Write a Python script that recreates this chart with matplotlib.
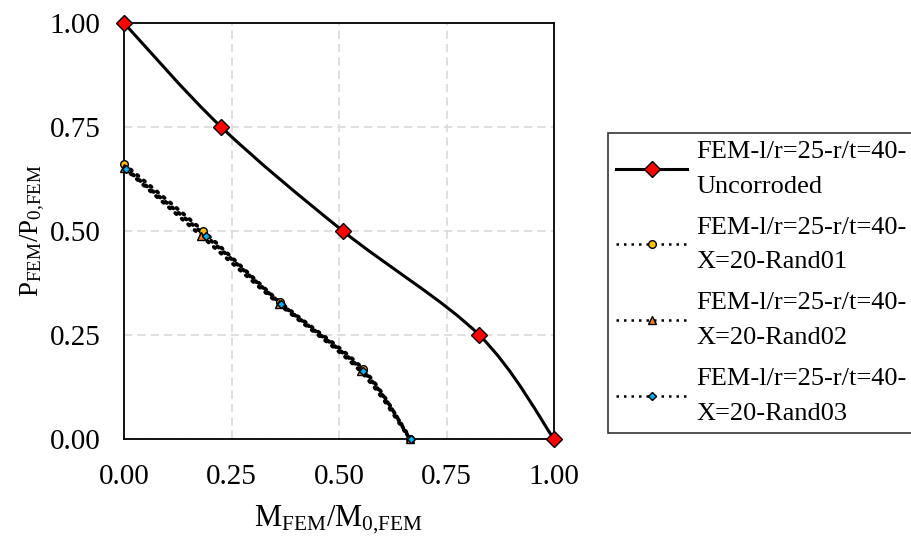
import numpy as np
import matplotlib
matplotlib.use("Agg")
import matplotlib.pyplot as plt
from matplotlib.path import Path
from matplotlib.patches import PathPatch
from matplotlib.lines import Line2D

plt.rcParams['font.family'] = ['Liberation Serif', 'DejaVu Serif']
plt.rcParams['mathtext.fontset'] = 'custom'
plt.rcParams['mathtext.rm'] = 'Liberation Serif'
plt.rcParams['mathtext.it'] = 'Liberation Serif:italic'

# Datos
m_unc = [0.0, 0.226, 0.509, 0.826, 1.0]
p_unc = [1.0, 0.75, 0.50, 0.25, 0.0]

m_r01 = [0.0, 0.184, 0.362, 0.556, 0.665]
p_r01 = [0.661, 0.500, 0.330, 0.168, 0.0]

m_r02 = [0.0, 0.180, 0.360, 0.550, 0.665]
p_r02 = [0.652, 0.488, 0.325, 0.163, 0.0]

m_r03 = [0.005, 0.190, 0.365, 0.556, 0.667]
p_r03 = [0.649, 0.488, 0.325, 0.163, 0.0]

labels = ["FEM-l/r=25-r/t=40-\nUncorroded",
          "FEM-l/r=25-r/t=40-\nX=20-Rand01",
          "FEM-l/r=25-r/t=40-\nX=20-Rand02",
          "FEM-l/r=25-r/t=40-\nX=20-Rand03"]

ticks = [0.0, 0.25, 0.5, 0.75, 1.0]


def smooth_path(xs, ys):
    # curva suavizada tipo Excel (Bezier cúbica)
    pts = np.column_stack([xs, ys])
    n = len(pts)
    verts = [pts[0]]
    codes = [Path.MOVETO]
    for i in range(n - 1):
        p0 = pts[i - 1] if i > 0 else pts[i]
        p1 = pts[i]
        p2 = pts[i + 1]
        p3 = pts[i + 2] if i + 2 < n else pts[i + 1]
        c1 = p1 + (p2 - p0) / 6.0
        c2 = p2 - (p3 - p1) / 6.0
        verts += [c1, c2, p2]
        codes += [Path.CURVE4] * 3
    return Path(verts, codes)


fig = plt.figure(figsize=(9.11, 5.40), dpi=100)
ax = fig.add_axes([124 / 911, 1 - 439 / 540, 430 / 911, 416 / 540])

ax.add_patch(PathPatch(smooth_path(m_unc, p_unc), fill=False, edgecolor='black',
                       linewidth=2.2, zorder=3))
for xs, ys in [(m_r01, p_r01), (m_r02, p_r02), (m_r03, p_r03)]:
    ax.add_patch(PathPatch(smooth_path(xs, ys), fill=False, edgecolor='black',
                           linewidth=2.8, linestyle=(0, (0.4, 1.8)), capstyle='round', zorder=3))

ax.plot(m_unc, p_unc, linestyle='none', marker='D', markersize=8,
        markerfacecolor='#ff0000', markeredgecolor='black', markeredgewidth=1, zorder=5, clip_on=False)
ax.plot(m_r01, p_r01, linestyle='none', marker='o', markersize=5.5,
        markerfacecolor='#ffc000', markeredgecolor='black', markeredgewidth=1, zorder=5, clip_on=False)
ax.plot(m_r02, p_r02, linestyle='none', marker='^', markersize=5.5,
        markerfacecolor='#ed7d31', markeredgecolor='black', markeredgewidth=1, zorder=5, clip_on=False)
ax.plot(m_r03, p_r03, linestyle='none', marker='D', markersize=4.2,
        markerfacecolor='#00b0f0', markeredgecolor='black', markeredgewidth=1, zorder=5, clip_on=False)

ax.set_xlim(0, 1)
ax.set_ylim(0, 1)
ax.set_xticks(ticks)
ax.set_yticks(ticks)
ax.set_xticklabels([f"{t:.2f}" for t in ticks])
ax.set_yticklabels([f"{t:.2f}" for t in ticks])
ax.tick_params(length=0, labelsize=21)
ax.tick_params(axis='x', pad=18)
ax.tick_params(axis='y', pad=17)
ax.grid(True, color='#d9d9d9', linestyle=(0, (5, 3)), linewidth=1.2)
ax.set_axisbelow(True)
for s in ax.spines.values():
    s.set_linewidth(1.3)
    s.set_color('black')

ax.set_xlabel(r'M$_{\mathrm{FEM}}$/M$_{\mathrm{0{,}FEM}}$', fontsize=22, labelpad=10)
ax.set_ylabel(r'P$_{\mathrm{FEM}}$/P$_{\mathrm{0{,}FEM}}$', fontsize=19.5, labelpad=2)

handles = [
    Line2D([], [], color='black', linewidth=2.2, marker='D', markersize=8,
           markerfacecolor='#ff0000', markeredgecolor='black'),
    Line2D([], [], color='black', linewidth=1.8, linestyle=(0, (1, 2)), marker='o', markersize=5.5,
           markerfacecolor='#ffc000', markeredgecolor='black'),
    Line2D([], [], color='black', linewidth=1.8, linestyle=(0, (1, 2)), marker='^', markersize=5.5,
           markerfacecolor='#ed7d31', markeredgecolor='black'),
    Line2D([], [], color='black', linewidth=1.8, linestyle=(0, (1, 2)), marker='D', markersize=4.2,
           markerfacecolor='#00b0f0', markeredgecolor='black'),
]
leg = fig.legend(handles, labels, loc='upper left', bbox_to_anchor=(608 / 911, 1 - 133 / 540),
                 fontsize=19, frameon=True, fancybox=False, edgecolor='black',
                 handlelength=2.7, handletextpad=0.35, labelspacing=0.72, borderpad=0.3,
                 borderaxespad=0)
for t in leg.get_texts():
    t.set_linespacing(1.75)
leg.get_frame().set_linewidth(1.2)

fig.savefig('out.png', dpi=100)
